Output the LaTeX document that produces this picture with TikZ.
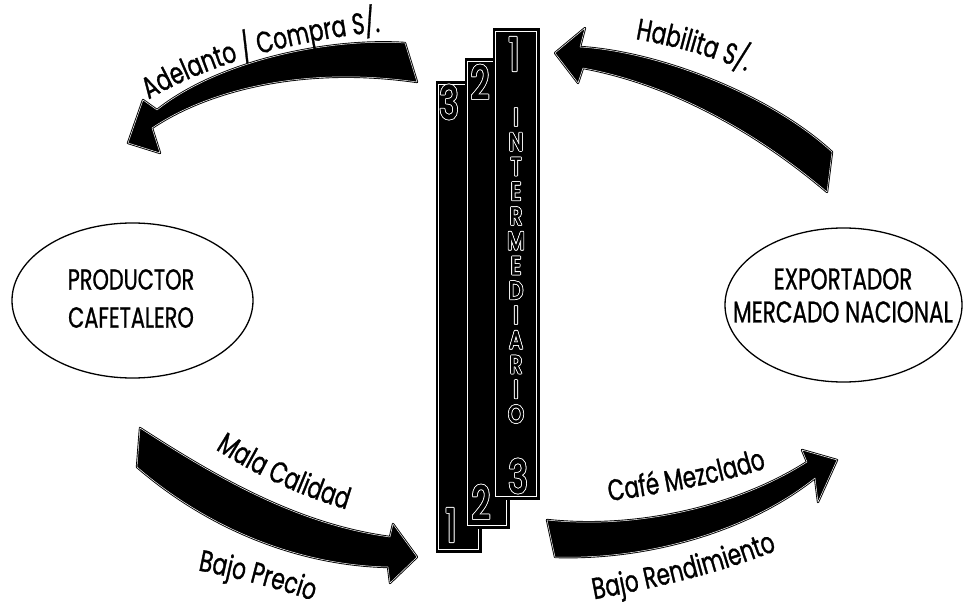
\documentclass[tikz,border=0pt]{standalone}
\usepackage{fontspec}
\setmainfont{Poppins}
\newfontfamily\lblfont[FakeStretch=0.72,FakeBold=1]{Poppins}
\newfontfamily\elfont[FakeStretch=0.72,FakeBold=0.8]{Poppins}
\newfontfamily\digfont[FakeStretch=0.7,FakeBold=2.5]{Poppins}
\newfontfamily\letfont[FakeStretch=0.8,FakeBold=2.5]{Poppins}
\usetikzlibrary{decorations.text,shapes.geometric}
% outlined glyph: white copies around, black on top
\newcommand\olt[1]{\leavevmode\rlap{\color{white}%
\rlap{\kern0.8pt #1}\rlap{\kern-0.8pt #1}%
\rlap{\raise0.8pt\hbox{#1}}\rlap{\raise-0.8pt\hbox{#1}}%
\rlap{\kern0.6pt\raise0.6pt\hbox{#1}}\rlap{\kern-0.6pt\raise0.6pt\hbox{#1}}%
\rlap{\kern0.6pt\raise-0.6pt\hbox{#1}}\rlap{\kern-0.6pt\raise-0.6pt\hbox{#1}}}#1}
\begin{document}
\begin{tikzpicture}[x=1pt,y=-1pt,
  arrowshape/.style={fill=black, draw=black, line width=0.9pt, double=white, double distance=0.5pt, line join=round},
  barbox/.style={fill=black, draw=black, line width=1pt, inner sep=0pt, rectangle},
  innerline/.style={draw=white, line width=0.8pt},
  ellbox/.style={draw=black, line width=1.3pt, ellipse, inner sep=0pt},
  eltext/.style={align=center, inner sep=0pt},
  digit/.style={font=\digfont\fontsize{46}{46}\selectfont, text=black, inner sep=0pt},
  vlet/.style={font=\letfont\fontsize{25}{25}\selectfont, text=black, inner sep=0pt},
  lbl/.style={decorate, decoration={text along path, text align=center, text={#1}}}
]
\useasboundingbox (0,0) rectangle (967,609);

% ellipses
\node[ellbox, minimum width=241pt, minimum height=155pt] (prod) at (132.5,300.5) {};
\node[eltext, font=\elfont\fontsize{29}{38}\selectfont] (prodtxt) at (131,298.5) {PRODUCTOR\\CAFETALERO};
\node[ellbox, minimum width=237pt, minimum height=154pt] (expo) at (843.5,305) {};
\node[eltext, font=\elfont\fontsize{30}{33}\selectfont] (expotxt) at (843,295.5) {EXPORTADOR\\MERCADO NACIONAL};

% stacked bars
\node[barbox, minimum width=45pt, minimum height=470pt] (bar3) at (458.5,317) {};
\draw[innerline] ([shift={(3,3)}]bar3.north west) rectangle ([shift={(-3,-3)}]bar3.south east);
\node[barbox, minimum width=44pt, minimum height=469pt] (bar2) at (487,293.5) {};
\draw[innerline] ([shift={(3,3)}]bar2.north west) rectangle ([shift={(-3,-3)}]bar2.south east);
\node[barbox, minimum width=46pt, minimum height=470pt] (bar1) at (516,264) {};
\draw[innerline] ([shift={(3,3)}]bar1.north west) rectangle ([shift={(-3,-3)}]bar1.south east);

\node[digit] (b3top) at (449,102) {\olt{3}};
\node[digit] (b3bot) at (451,525) {\olt{1}};
\node[digit] (b2top) at (480,82) {\olt{2}};
\node[digit] (b2bot) at (481,502) {\olt{2}};
\node[digit] (b1top) at (514,54) {\olt{1}};
\node[digit] (b1bot) at (518,476) {\olt{3}};

\foreach \ch [count=\i] in {I,N,T,E,R,M,E,D,I,A,R,I,O}
  \node[vlet] (let\i) at (516,{117+24.75*(\i-1)}) {\olt{\ch}};

% arrows
\path[arrowshape] (405,43) .. controls (330,38) and (220,60) .. (157,110) -- (143,100) -- (128,143) -- (160,153) -- (152,128) .. controls (205,92) and (300,65) .. (417,82) -- cycle;
\path[arrowshape] (580,47) .. controls (660,52) and (770,95) .. (832,152) -- (827,192) .. controls (760,135) and (675,85) .. (583,68) -- (578,83) -- (555,53) -- (585,28) -- cycle;
\path[arrowshape] (140,428) .. controls (220,480) and (300,525) .. (390,537) -- (393,524) -- (417,557) -- (390,583) -- (388,567) .. controls (300,565) and (210,530) .. (137,467) -- cycle;
\path[arrowshape] (547,520) .. controls (640,530) and (740,505) .. (807,462) -- (802,450) -- (837,460) -- (818,502) -- (815,478) .. controls (750,530) and (650,560) .. (555,557) -- cycle;

% labels
\path[lbl={|\lblfont\fontsize{30}{32}\selectfont|Adelanto / Compra S/.}] (128,113) .. controls (190,68) and (300,36) .. (405,30);
\path[lbl={|\lblfont\fontsize{30}{32}\selectfont|Habilita S/.}] (615,36) .. controls (660,42) and (715,55) .. (765,80);
\path[lbl={|\lblfont\fontsize{30}{32}\selectfont|Mala Calidad}] (195,436) .. controls (250,473) and (300,498) .. (370,516);
\path[lbl={|\lblfont\fontsize{30}{32}\selectfont|Bajo Precio}] (180,567) .. controls (225,575) and (280,588) .. (330,607);
\path[lbl={|\lblfont\fontsize{30}{32}\selectfont|Café Mezclado}] (585,505) .. controls (650,495) and (720,486) .. (790,460);
\path[lbl={|\lblfont\fontsize{30}{32}\selectfont|Bajo Rendimiento}] (575,603) .. controls (650,589) and (720,575) .. (795,543);
\end{tikzpicture}
\end{document}
